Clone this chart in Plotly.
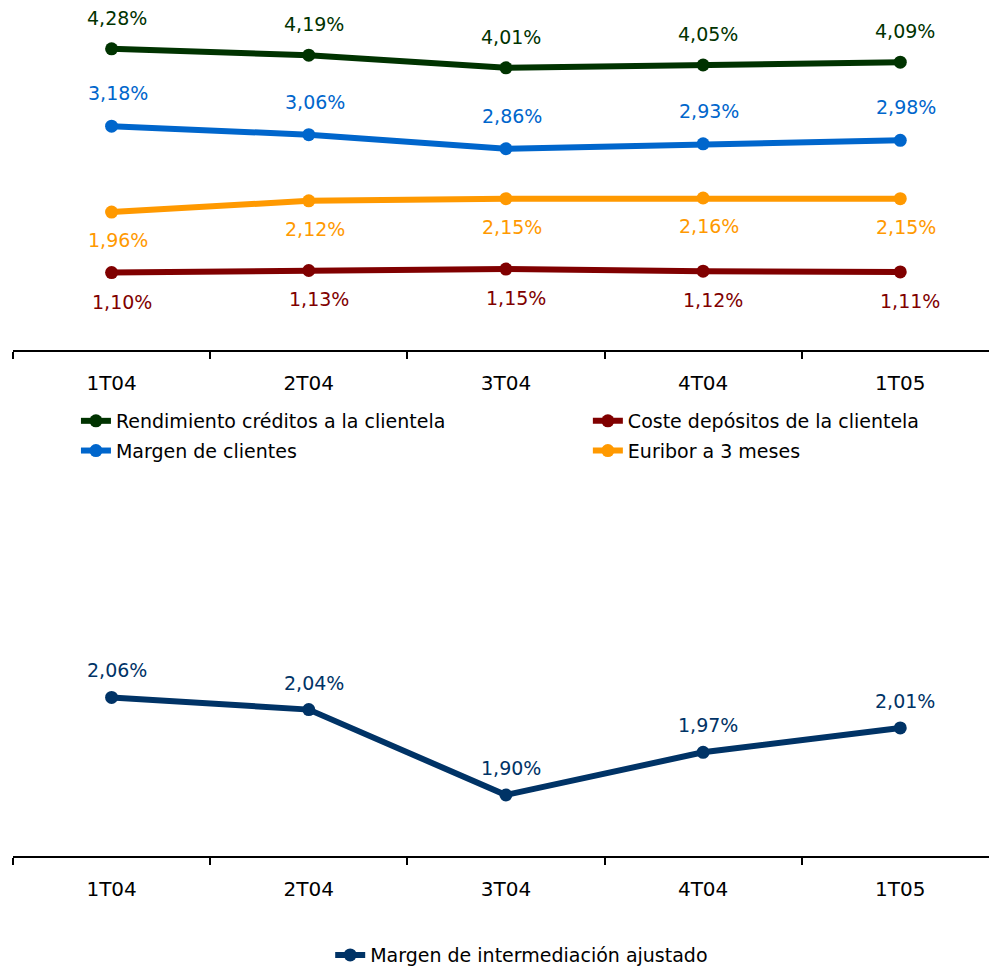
import plotly.graph_objects as go
from plotly.subplots import make_subplots

quarters = ["1T04", "2T04", "3T04", "4T04", "1T05"]

rendimiento = [4.28, 4.19, 4.01, 4.05, 4.09]
coste = [1.10, 1.13, 1.15, 1.12, 1.11]
margen_clientes = [3.18, 3.06, 2.86, 2.93, 2.98]
euribor = [1.96, 2.12, 2.15, 2.16, 2.15]
margen_ajustado = [2.06, 2.04, 1.90, 1.97, 2.01]

FONT = "DejaVu Sans"


def pct(v):
    # spanish style decimal comma
    return f"{v:.2f}".replace(".", ",") + "%"


fig = make_subplots(rows=2, cols=1)

# (name, values, color, row, legend, label yshift, label xshift)
series = [
    ("Rendimiento créditos a la clientela", rendimiento, "#003300", 1, "legend", 31, 5),
    ("Margen de clientes", margen_clientes, "#0066CC", 1, "legend", 33, 6),
    ("Coste depósitos de la clientela", coste, "#800000", 1, "legend3", -29, 10),
    ("Euribor a 3 meses", euribor, "#FF9900", 1, "legend3", -28, 6),
    ("Margen de intermediación ajustado", margen_ajustado, "#003366", 2, "legend2", 27, 5),
]

for name, vals, color, row, leg, dy, dx in series:
    fig.add_trace(
        go.Scatter(
            x=quarters, y=vals, name=name, mode="lines+markers",
            line=dict(color=color, width=6),
            marker=dict(color=color, size=13),
            legend=leg, legendgroup=name, hoverinfo="skip",
        ),
        row=row, col=1,
    )
    xref = "x" if row == 1 else "x2"
    yref = "y" if row == 1 else "y2"
    for q, v in zip(quarters, vals):
        fig.add_annotation(
            x=q, y=v, xref=xref, yref=yref, text=pct(v), showarrow=False,
            yshift=dy, xshift=dx, font=dict(family=FONT, size=19, color=color),
        )

xax = dict(
    type="category", range=[-0.5, 4.45], showgrid=False, zeroline=False,
    showline=True, linecolor="black", linewidth=2,
    ticks="outside", tickson="boundaries", ticklen=7, tickwidth=2, tickcolor="black",
    ticklabelstandoff=14, tickfont=dict(family=FONT, size=20, color="black"),
    fixedrange=True,
)
fig.update_xaxes(**xax)
fig.update_layout(
    xaxis=dict(domain=[0, 1], anchor="y"),
    xaxis2=dict(domain=[0, 1], anchor="y2"),
    yaxis=dict(domain=[0.64375, 1.0], range=[0, 4.86], visible=False),
    yaxis2=dict(domain=[0.11667, 0.37083], range=[1.8, 2.2], visible=False),
)

leg_common = dict(
    orientation="v", xanchor="left", traceorder="grouped", tracegroupgap=2,
    font=dict(family=FONT, size=19, color="black"), bgcolor="rgba(0,0,0,0)",
)

fig.update_layout(
    width=981, height=960,
    margin=dict(l=5, r=0, t=0, b=0, autoexpand=False),
    plot_bgcolor="white", paper_bgcolor="white",
    font=dict(family=FONT, size=19, color="black"),
    showlegend=True,
    legend=dict(x=0.0645, y=0.5896, yanchor="top", **leg_common),
    legend3=dict(x=0.589, y=0.5896, yanchor="top", **leg_common),
    legend2=dict(x=0.325, y=0.0135, yanchor="middle", **leg_common),
)

fig.write_html("out.html")
